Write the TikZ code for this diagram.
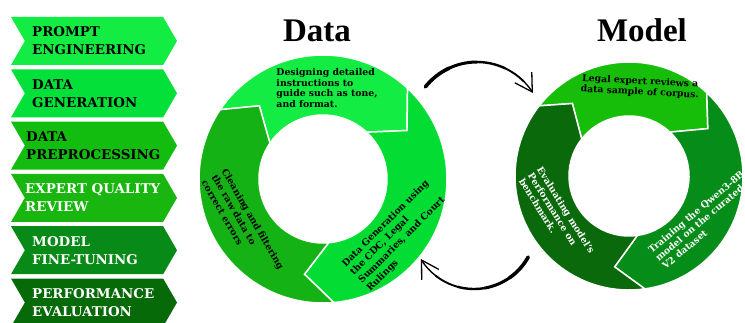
\documentclass[tikz,border=0pt]{standalone}
\usepackage{fontspec}
\setmainfont{DejaVu Serif}
\newfontfamily\headfont{Liberation Serif}
\usetikzlibrary{arrows.meta,shapes.symbols,positioning}

% stage colours, light to dark
\definecolor{chA}{HTML}{12EC43}
\definecolor{chB}{HTML}{03E03A}
\definecolor{chC}{HTML}{12BD10}
\definecolor{chD}{HTML}{18B60E}
\definecolor{chE}{HTML}{078A17}
\definecolor{chF}{HTML}{066A08}
% ring segments
\definecolor{dTopC}{HTML}{12EC43}
\definecolor{dRightC}{HTML}{02DC33}
\definecolor{dLeftC}{HTML}{15B215}
\definecolor{mTopC}{HTML}{16BE0A}
\definecolor{mRightC}{HTML}{068D19}
\definecolor{mLeftC}{HTML}{0A6A0B}

\tikzset{
    chev/.style={signal, signal from=west, signal to=east,
        signal pointer angle=120, minimum width=166pt,
        minimum height=48pt, inner sep=0pt},
    chevtxt/.style={anchor=west, align=left, inner sep=0pt,
        font=\fontsize{13.4}{18}\selectfont\bfseries},
    seg/.style={draw=white, line width=1.5pt},
    ringtxt/.style={align=left, inner sep=0pt,
        font=\fontsize{9.3}{10.7}\selectfont\bfseries},
    widetxt/.style={ringtxt, font=\fontsize{9.3}{11.6}\selectfont\bfseries},
    heading/.style={anchor=base, font=\headfont\bfseries\fontsize{33}{36}\selectfont},
    brush/.style={black, line cap=round},
}

\begin{document}
\begin{tikzpicture}[x=1pt,y=1pt]
    \useasboundingbox (0,0) rectangle (745,322);

    % pipeline steps
    \foreach \i/\col/\tc/\tx/\lbl in {
        1/chA/black/32/{PROMPT\\ENGINEERING},
        2/chB/black/32/{DATA\\GENERATION},
        3/chC/black/26/{DATA\\PREPROCESSING},
        4/chD/white/25/{EXPERT QUALITY\\REVIEW},
        5/chE/white/32/{MODEL\\FINE-TUNING},
        6/chF/white/32/{PERFORMANCE\\EVALUATION}}
    {
        \node[chev, fill=\col] (step\i) at (94, 333.3-52.3*\i) {};
        \node[chevtxt, text=\tc] (lbl\i) at (\tx, 333.3-52.3*\i) {\lbl};
    }

    % the two cycles
    \coordinate (dataC) at (323,143);
    \coordinate (modelC) at (629,146);

    % tail base / notch / head base / tip
    \foreach \tb/\tn/\hb/\ht/\col in {146/131/47/30/dTopC,
        47/30/-85/-101/dRightC, -85/-101/-214/-229/dLeftC}
        \path[seg, fill=\col] ([shift={(\tb:124)}]dataC)
            arc[start angle=\tb, end angle=\hb, radius=124]
            -- ([shift={(\ht:97)}]dataC) -- ([shift={(\hb:64)}]dataC)
            arc[start angle=\hb, end angle=\tb, radius=64]
            -- ([shift={(\tn:97)}]dataC) -- cycle;

    \foreach \tb/\tn/\hb/\ht/\col in {142/128/47/31/mTopC,
        47/31/-82/-99/mRightC, -82/-99/-218/-232/mLeftC}
        \path[seg, fill=\col] ([shift={(\tb:114)}]modelC)
            arc[start angle=\tb, end angle=\hb, radius=114]
            -- ([shift={(\ht:92)}]modelC) -- ([shift={(\hb:60)}]modelC)
            arc[start angle=\hb, end angle=\tb, radius=60]
            -- ([shift={(\tn:92)}]modelC) -- cycle;

    \node[heading] (dataTitle) at (317,280) {Data};
    \node[heading] (modelTitle) at (642,280) {Model};

    \node[ringtxt] (dTop) at (327,234)
        {Designing detailed\\instructions to\\guide such as tone,\\and format.};
    \node[widetxt, rotate=-60] (dLeft) at (243,97)
        {Cleaning and filtering\\the raw data to\\correct errors};
    \node[widetxt, rotate=45] (dRight) at (398,86)
        {Data Generation using\\the CDC, Legal\\Summaries, and Court\\Rulings};

    \node[ringtxt, align=center, rotate=-3] (mTop) at (640,235)
        {Legal expert reviews a\\data sample of corpus.};
    \node[ringtxt, text=white, rotate=-58] (mLeft) at (557,106)
        {Evaluating model's\\Performance on\\benchmark.};
    \node[ringtxt, text=white, rotate=40] (mRight) at (703,102)
        {Training the Qwen3-8B\\model on the curated\\V2 dataset};

    % hand drawn arrows between the cycles
    \coordinate (arcT) at (477,194);
    \coordinate (arcB) at (474,95);
    \foreach \a/\b/\w in {141.5/115/3.6, 115/90/3.0, 90/65/2.4, 65/45/1.9}
        \draw[brush, line width=\w pt] ([shift={(\a:66)}]arcT)
            arc[start angle=\a, end angle=\b, radius=66];
    \draw[brush, line width=1.4pt,
        -{Straight Barb[length=17pt, width=20pt, line width'=1.3pt]}]
        ([shift={(45:66)}]arcT) arc[start angle=45, end angle=32, radius=66];

    \foreach \a/\b/\w in {-29/-55/3.6, -55/-80/3.0, -80/-105/2.4, -105/-128/1.9}
        \draw[brush, line width=\w pt] ([shift={(\a:62)}]arcB)
            arc[start angle=\a, end angle=\b, radius=62];
    \draw[brush, line width=1.4pt,
        -{Straight Barb[length=17pt, width=20pt, line width'=1.3pt]}]
        ([shift={(-128:62)}]arcB) arc[start angle=-128, end angle=-149, radius=62];
\end{tikzpicture}
\end{document}
